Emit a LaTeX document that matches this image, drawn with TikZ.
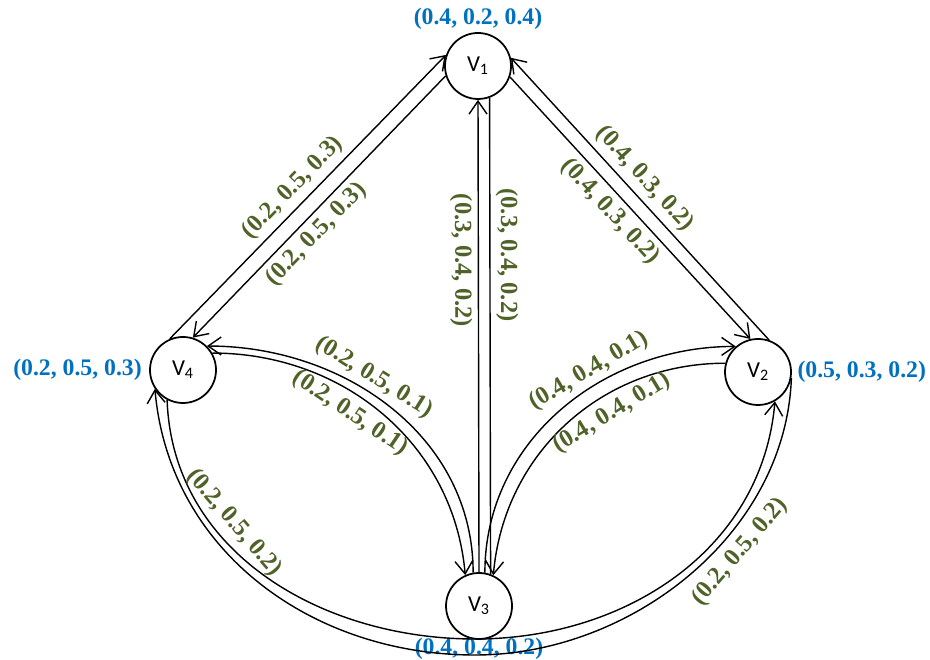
\documentclass[tikz,border=0pt]{standalone}
\usepackage{fontspec}
\setmainfont{Liberation Serif}
\newfontfamily\vertexfont{Carlito}
\usetikzlibrary{arrows.meta,positioning}
\definecolor{probblue}{RGB}{0,112,192}
\definecolor{weightgreen}{RGB}{79,98,40}

\begin{document}
\begin{tikzpicture}[
  >={Straight Barb[length=2.6mm,width=3.6mm]},
  vertex/.style={circle,draw,line width=1pt,minimum size=13.2mm,inner sep=0pt,font=\vertexfont\fontsize{13}{15}\selectfont},
  edge/.style={->,line width=0.8pt},
  prob/.style={text=probblue,font=\bfseries\fontsize{13.5}{15}\selectfont,inner sep=1pt},
  weight/.style={text=weightgreen,font=\bfseries\fontsize{14}{16}\selectfont,sloped,inner sep=1pt}
]
\useasboundingbox (0,0) rectangle (18.6,13.2);

\node[vertex] (v1) at (9.56,11.88) {V\textsubscript{1}};
\node[vertex] (v4) at (3.66,5.80) {V\textsubscript{4}};
\node[vertex] (v2) at (15.16,5.76) {V\textsubscript{2}};
\node[vertex] (v3) at (9.58,1.08) {V\textsubscript{3}};

\node[prob,above=0pt of v1] (p1) {(0.4, 0.2, 0.4)};
\node[prob,left=3pt of v4] (p4) {(0.2, 0.5, 0.3)};
\node[prob,right=2pt of v2] (p2) {(0.5, 0.3, 0.2)};
\node[prob,below=-2pt of v3] (p3) {(0.4, 0.4, 0.2)};

\coordinate (innerbot) at (9.5,0.42);
\coordinate (outerbot) at (9.5,0.1);

% straight pairs
\draw[edge] (v4.113) -- (v1.161) node[weight,pos=.49,above=2pt] {(0.2, 0.5, 0.3)};
\draw[edge] (v1.197) -- (v4.73) node[weight,pos=.56,below=2pt] {(0.2, 0.5, 0.3)};
\draw[edge] (v1.-19) -- (v2.103) node[weight,pos=.47,below=2pt] {(0.4, 0.3, 0.2)};
\draw[edge] (v2.71) -- (v1.14) node[weight,pos=.53,above=2pt] {(0.4, 0.3, 0.2)};
\draw[edge,<-] (v1.270) -- (v3.90) node[weight,pos=.34,below=2pt] {(0.3, 0.4, 0.2)};
\draw[line width=0.8pt] (v1.-70) -- (v3.70) node[weight,pos=.33,above=2pt] {(0.3, 0.4, 0.2)};

% curved pairs
\draw[edge] (v3.100) to[out=90,in=0] node[weight,pos=.58,above=1pt] {(0.2, 0.5, 0.1)} (v4.45);
\draw[edge] (v4.30) to[out=0,in=95] node[weight,pos=.42,below=3pt] {(0.2, 0.5, 0.1)} (v3.114);
\draw[edge] (v3.80) to[out=90,in=180] node[weight,pos=.62,above=1pt] {(0.4, 0.4, 0.1)} (v2.131);
\draw[edge] (v2.165) to[out=180,in=85] node[weight,pos=.37,below=3pt] {(0.4, 0.4, 0.1)} (v3.65);

% outer loop
\draw[edge] (v4.242) to[out=-88,in=180] node[weight,pos=.35,above=3pt] {(0.2, 0.5, 0.2)} (innerbot)
  to[out=0,in=-95] (v2.-60);
\draw[edge] (v2.-10) to[out=-92,in=0,looseness=.95] node[weight,pos=.39,below=3pt] {(0.2, 0.5, 0.2)} (outerbot)
  to[out=180,in=-85] (v4.214);
\end{tikzpicture}
\end{document}
